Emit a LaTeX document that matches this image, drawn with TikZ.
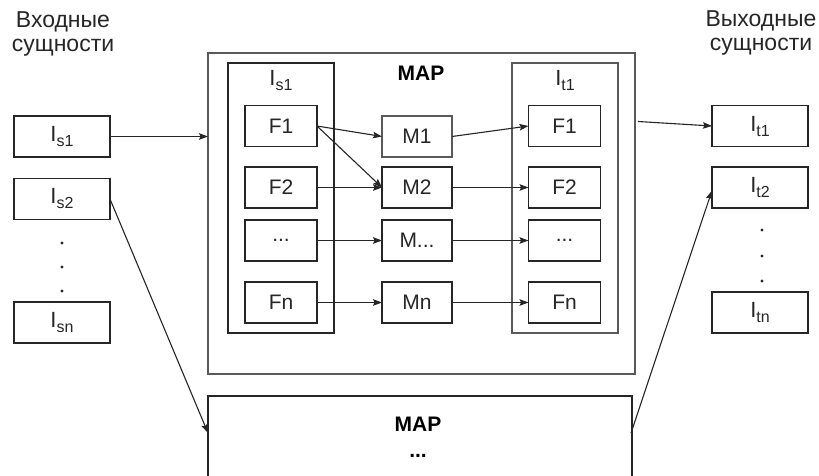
\documentclass[tikz,border=0pt]{standalone}
\usepackage{fontspec}
\setmainfont{Liberation Sans}
\usetikzlibrary{arrows.meta}
\newcommand\lowsub[1]{\raisebox{-5pt}{\fontsize{16}{16}\selectfont #1}}
\begin{document}
\begin{tikzpicture}[x=1pt,y=-1pt,
  box/.style={draw=black!85,line width=1.3pt,rectangle,inner sep=0pt,outer sep=0pt,
    text=black!85,font=\fontsize{21}{21}\selectfont},
  ent/.style={box,minimum width=96pt,minimum height=41pt,font=\fontsize{22}{22}\selectfont},
  fbox/.style={box,minimum width=72pt,minimum height=41pt},
  mbox/.style={box,minimum width=70pt,minimum height=41pt},
  panel/.style={box,minimum width=106pt,minimum height=270pt},
  heading/.style={text=black!85,align=center,font=\fontsize{23}{24}\selectfont},
  maptitle/.style={text=black,font=\fontsize{21}{21}\selectfont\bfseries},
  dot/.style={circle,fill=black!85,inner sep=0pt,minimum size=3.2pt},
  arr/.style={draw=black!85,line width=1.1pt,-{Stealth[length=9pt,width=6.5pt,inset=1.5pt]}}]
\useasboundingbox[fill=white] (0,0) rectangle (819,476);

% headings
\node[heading] (inhead) at (63,34) {Входные\\сущности};
\node[heading] (outhead) at (761,33) {Выходные\\сущности};

% source entities
\node[ent] (Is1) at (62,136.5) {I\lowsub{s1}};
\node[ent] (Is2) at (62,199) {I\lowsub{s2}};
\node[dot] (ds1) at (62,243) {};
\node[dot] (ds2) at (62,267) {};
\node[dot] (ds3) at (62,291) {};
\node[ent] (Isn) at (62,322.5) {I\lowsub{sn}};

% target entities
\node[ent] (It1) at (760,126) {I\lowsub{t1}};
\node[ent] (It2) at (760,187.5) {I\lowsub{t2}};
\node[dot] (dt1) at (762,230) {};
\node[dot] (dt2) at (762,256) {};
\node[dot] (dt3) at (762,281) {};
\node[ent] (Itn) at (760,312.5) {I\lowsub{tn}};

% first MAP block
\node[box,draw=black!65,minimum width=427pt,minimum height=321pt] (map) at (421.5,213.5) {};
\node[maptitle] (maplabel) at (421,73) {MAP};

\node[panel] (src) at (281,198) {};
\node[heading,anchor=base,font=\fontsize{22}{22}\selectfont] (srclabel) at (281,86) {I\lowsub{s1}};
\node[panel,draw=black!65] (tgt) at (565,198) {};
\node[heading,anchor=base,font=\fontsize{22}{22}\selectfont] (tgtlabel) at (565,86) {I\lowsub{t1}};

\node[fbox] (sF1) at (281,126) {F1};
\node[fbox] (sF2) at (281,187.5) {F2};
\node[fbox] (sFd) at (281,240.5) {...};
\node[fbox] (sFn) at (281,302.5) {Fn};

\node[mbox,draw=black!65] (M1) at (417,136.5) {M1};
\node[mbox] (M2) at (417,187.5) {M2};
\node[mbox] (Md) at (417,240.5) {M...};
\node[mbox] (Mn) at (417,302.5) {Mn};

\node[fbox] (tF1) at (564.5,126) {F1};
\node[fbox] (tF2) at (564.5,187.5) {F2};
\node[fbox] (tFd) at (564.5,240.5) {...};
\node[fbox] (tFn) at (564.5,302.5) {Fn};

% second MAP block, running past the lower edge
\node[box,minimum width=424pt,minimum height=120pt] (map2) at (420,456) {};
\node[maptitle] (map2label) at (418,424) {MAP};
\node[maptitle,anchor=base] (map2dots) at (418,457) {...};

% connectors
\draw[arr] (Is1.east) -- (Is1.east -| map.west);
\coordinate (mapout) at (638,121.5);
\draw[arr] (mapout) -- (It1.west);

\coordinate (map2in) at (208,433);
\coordinate (map2out) at (631,433);
\draw[arr] (Is2.east) -- (map2in);
\draw[arr] (map2out) -- ([yshift=-3pt]It2.west);

\draw[arr] (sF1.east) -- (M1.west);
\draw[arr] (sF1.east) -- (M2.west);
\draw[arr] (sF2) -- (M2);
\draw[arr] (sFd) -- (Md);
\draw[arr] (sFn) -- (Mn);

\draw[arr] (M1.east) -- (tF1.west);
\draw[arr] (M2) -- (tF2);
\draw[arr] (Md) -- (tFd);
\draw[arr] (Mn) -- (tFn);
\end{tikzpicture}
\end{document}
